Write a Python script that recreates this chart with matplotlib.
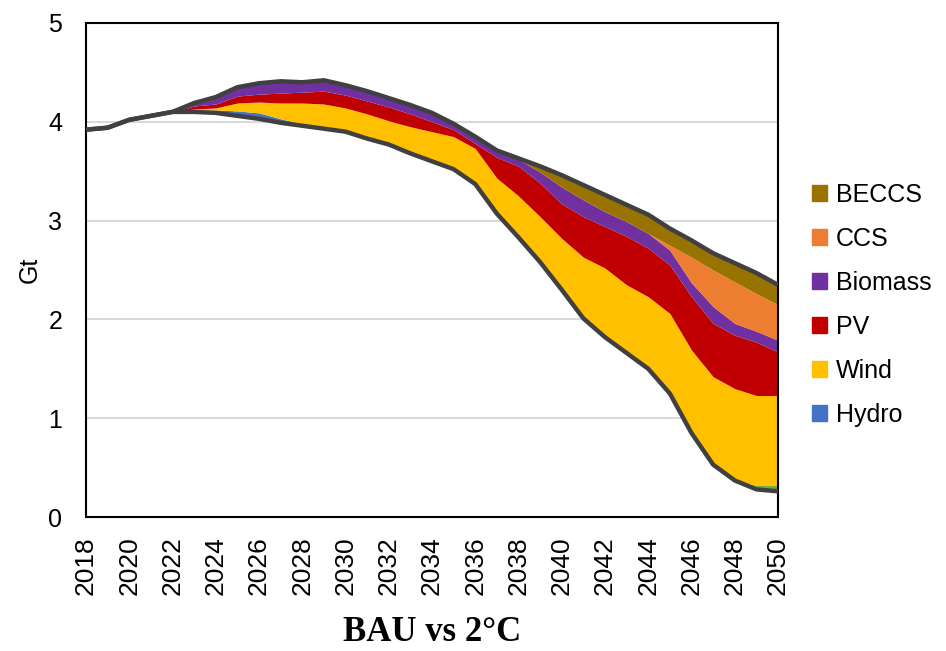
import numpy as np
import matplotlib
matplotlib.use('Agg')
import matplotlib.pyplot as plt
from matplotlib.patches import Patch

years = np.arange(2018, 2051)

# 2°C scenario emissions (bottom line), Gt
two_deg = [3.92, 3.94, 4.02, 4.06, 4.10, 4.10, 4.09, 4.06, 4.03, 3.99, 3.96,
           3.93, 3.90, 3.83, 3.77, 3.68, 3.60, 3.52, 3.37, 3.07, 2.83, 2.58,
           2.30, 2.01, 1.82, 1.66, 1.50, 1.25, 0.85, 0.53, 0.37, 0.28, 0.26]

# wedges between 2°C and BAU, bottom to top
other = [0]*31 + [0.04, 0.06]
hydro = [0, 0, 0, 0, 0, 0.01, 0.03, 0.05, 0.06, 0.04, 0.02, 0.01] + [0]*21
wind = [0, 0, 0, 0, 0, 0.02, 0.02, 0.08, 0.11, 0.16, 0.21, 0.24, 0.24, 0.25,
        0.24, 0.27, 0.30, 0.33, 0.36, 0.36, 0.42, 0.46, 0.52, 0.62, 0.70,
        0.69, 0.73, 0.81, 0.84, 0.89, 0.93, 0.91, 0.91]
pv = [0, 0, 0, 0, 0, 0.03, 0.04, 0.07, 0.08, 0.10, 0.11, 0.13, 0.13, 0.13,
      0.14, 0.13, 0.10, 0.07, 0.05, 0.21, 0.30, 0.34, 0.35, 0.41, 0.42,
      0.49, 0.49, 0.49, 0.54, 0.54, 0.54, 0.54, 0.44]
biomass = [0, 0, 0, 0, 0, 0.03, 0.07, 0.09, 0.11, 0.12, 0.10, 0.11, 0.10,
           0.10, 0.09, 0.09, 0.09, 0.06, 0.07, 0.07, 0.07, 0.11, 0.17, 0.17,
           0.15, 0.15, 0.15, 0.15, 0.14, 0.17, 0.12, 0.11, 0.12]
ccs = [0]*27 + [0.05, 0.26, 0.37, 0.42, 0.38, 0.36]
beccs = [0]*20 + [0.01, 0.06, 0.12, 0.15, 0.17, 0.17, 0.19, 0.17, 0.17,
                  0.17, 0.19, 0.21, 0.20]

layers = [other, hydro, wind, pv, biomass, ccs, beccs]
names = ['Other', 'Hydro', 'Wind', 'PV', 'Biomass', 'CCS', 'BECCS']
colors = ['#70AD47', '#4472C4', '#FFC000', '#C00000', '#7030A0', '#ED7D31', '#997300']

plt.rcParams['font.family'] = ['Liberation Sans', 'DejaVu Sans']

fig = plt.figure(figsize=(9.46, 6.51), dpi=100)
ax = fig.add_axes([0.0909, 0.2058, 0.7315, 0.7589])

lower = np.array(two_deg, dtype=float)
for vals, c in zip(layers, colors):
    upper = lower + np.array(vals)
    ax.fill_between(years, lower, upper, color=c, linewidth=0, zorder=2)
    lower = upper
bau = lower

ax.plot(years, two_deg, color='#404040', lw=3.2, zorder=3, solid_capstyle='butt')
ax.plot(years, bau, color='#404040', lw=3.2, zorder=3, solid_capstyle='butt')

ax.set_xlim(2018, 2050)
ax.set_ylim(0, 5)
ax.set_xticks(years[::2])
ax.set_xticklabels([str(y) for y in years[::2]], rotation=90, fontsize=19)
ax.set_yticks(range(6))
ax.tick_params(axis='y', labelsize=18, length=0, pad=17)
ax.tick_params(axis='x', length=0, pad=14)
ax.yaxis.grid(True, color='#D9D9D9', lw=1.5, zorder=0)
ax.set_axisbelow(True)
for s in ax.spines.values():
    s.set_color('black')
    s.set_linewidth(1.5)
ax.set_ylabel('Gt', fontsize=18, labelpad=5)

handles = [Patch(color=c, label=n) for n, c in zip(names[1:], colors[1:])][::-1]
fig.legend(handles=handles, loc='center left', bbox_to_anchor=(0.845, 0.532),
           frameon=False, fontsize=18, handlelength=0.6, handleheight=0.6,
           handletextpad=0.35, labelspacing=0.8, borderpad=0)

fig.text(0.4567, 0.028, 'BAU vs 2°C', ha='center', va='center', fontsize=25,
         fontweight='bold', family=['Liberation Serif', 'DejaVu Serif'])

fig.savefig('out.png', dpi=100)
